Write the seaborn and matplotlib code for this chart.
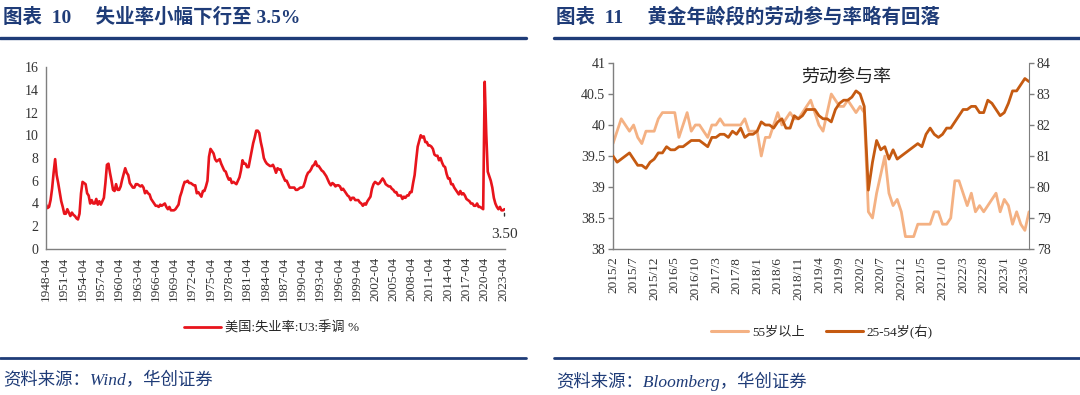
import numpy as np
import pandas as pd
import seaborn as sns
import matplotlib.pyplot as plt
from matplotlib.lines import Line2D

sns.set_style("white")
plt.rcParams['font.family'] = ['Liberation Serif', 'Noto Sans CJK SC']
plt.rcParams['axes.unicode_minus'] = False

# ---- left chart: US U3 unemployment, quarterly readings from 1948-04 to 2023-07
u3 = [3.9, 3.6, 3.7,
      4.3, 5.3, 6.7, 7.9,  6.5, 5.8, 5.0, 4.2,  3.7, 3.1, 3.1, 3.5,  3.2, 2.9, 3.2, 3.0,
      2.9, 2.7, 2.6, 3.1,  4.9, 5.9, 5.8, 5.7,  4.9, 4.7, 4.0, 4.3,  4.0, 4.0, 4.4, 3.9,
      4.2, 3.9, 4.2, 4.5,  5.8, 7.4, 7.5, 6.7,  6.0, 5.2, 5.1, 5.7,  5.2, 5.2, 5.5, 6.1,
      6.6, 7.1, 6.7, 6.5,  5.8, 5.6, 5.4, 5.4,  5.7, 5.7, 5.6, 5.5,  5.6, 5.4, 4.9, 5.1,
      4.9, 4.8, 4.4, 4.2,  4.0, 3.8, 3.8, 3.7,  3.9, 3.8, 3.9, 4.0,  3.7, 3.5, 3.7, 3.4,
      3.4, 3.4, 3.5, 3.7,  3.9, 4.6, 5.0, 5.5,  5.9, 5.9, 6.0, 5.8,  5.8, 5.7, 5.6, 5.6,
      4.9, 5.0, 4.8, 4.6,  5.1, 5.1, 5.5, 6.0,  8.1, 8.8, 8.6, 8.4,  7.9, 7.7, 7.8, 7.9,
      7.5, 7.2, 6.9, 6.8,  6.4, 6.1, 6.2, 5.8,  5.9, 5.8, 5.7, 6.0,  6.3, 6.9, 7.8, 7.5,
      7.5, 7.2, 7.2, 7.9,  8.6, 9.3, 9.8, 10.4,  10.4, 10.2, 9.4, 8.8,  8.0, 7.7, 7.5, 7.4,
      7.3, 7.3, 7.4, 7.1,  6.7, 7.1, 7.0, 7.0,  6.6, 6.3, 6.0, 6.0,  5.7, 5.4, 5.4, 5.4,
      5.4, 5.2, 5.2, 5.3,  5.4, 5.4, 5.5, 5.9,  6.4, 6.7, 6.8, 7.0,  7.3, 7.4, 7.7, 7.3,
      7.3, 7.1, 6.9, 6.8,  6.6, 6.4, 6.1, 5.8,  5.6, 5.8, 5.7, 5.5,  5.6, 5.6, 5.5, 5.2,
      5.3, 5.1, 4.9, 4.7,  4.6, 4.3, 4.5, 4.5,  4.3, 4.3, 4.3, 4.1,  4.0, 3.8, 4.0, 3.9,
      4.2, 4.4, 4.6, 5.3,  5.7, 5.9, 5.8, 5.7,  5.8, 6.0, 6.2, 6.0,  5.7, 5.6, 5.5, 5.5,
      5.3, 5.2, 5.0, 5.0,  4.7, 4.7, 4.7, 4.4,  4.6, 4.5, 4.7, 4.7,  5.0, 5.0, 5.8, 6.5,
      7.8, 9.0, 9.5, 10.0,  9.8, 9.9, 9.4, 9.4,  9.1, 9.1, 9.0, 8.8,  8.3, 8.2, 8.2, 7.8,
      8.0, 7.6, 7.3, 7.2,  6.6, 6.2, 6.2, 5.7,  5.7, 5.4, 5.2, 5.0,  4.8, 5.1, 4.8, 4.9,
      4.7, 4.4, 4.3, 4.2,  4.0, 4.0, 3.8, 3.8,  4.0, 3.7, 3.7, 3.6,  3.5, 14.7, 10.2, 6.8,
      6.4, 6.0, 5.4, 4.5,  4.0, 3.7, 3.5, 3.7,
      3.4, 3.4, 3.5]
u3_ticks = ["1948-04", "1951-04", "1954-04", "1957-04", "1960-04", "1963-04", "1966-04",
            "1969-04", "1972-04", "1975-04", "1978-04", "1981-04", "1984-04", "1987-04",
            "1990-04", "1993-04", "1996-04", "1999-04", "2002-04", "2005-04", "2008-04",
            "2011-04", "2014-04", "2017-04", "2020-04", "2023-04"]

# ---- right chart: labour force participation, monthly 2015/2 - 2023/7
lfpr_55 = [39.7, 39.9, 40.1, 40.0, 39.9, 40.0, 39.8, 39.7, 39.9, 39.9,
           39.9, 40.1, 40.2, 40.2, 40.2, 40.2, 39.8, 40.0, 40.2, 39.9,
           40.0, 40.0, 39.9, 39.8, 40.0, 40.0, 40.1, 40.0, 40.0, 40.0,
           40.0, 40.0, 40.1, 39.9, 39.9, 39.9, 39.5, 39.8, 39.8, 40.0,
           40.2, 40.0, 40.1, 40.2, 40.1, 40.1, 40.2, 40.3, 40.4, 40.2,
           40.0, 39.9, 40.2, 40.5, 40.4, 40.3, 40.3, 40.4, 40.3, 40.2,
           40.3, 40.2, 38.6, 38.5, 38.9, 39.2, 39.5, 38.9, 38.7, 38.8,
           38.6, 38.2, 38.2, 38.2, 38.4, 38.4, 38.4, 38.4, 38.6, 38.6,
           38.4, 38.4, 38.5, 39.1, 39.1, 38.9, 38.7, 38.9, 38.6, 38.7,
           38.6, 38.7, 38.8, 38.9, 38.6, 38.8, 38.7, 38.4, 38.6, 38.4,
           38.3, 38.6]
lfpr_25_54 = [81.0, 80.8, 80.9, 81.0, 81.1, 80.9, 80.7, 80.7, 80.6, 80.8,
              80.9, 81.1, 81.1, 81.3, 81.2, 81.2, 81.3, 81.3, 81.4, 81.5,
              81.5, 81.5, 81.4, 81.3, 81.6, 81.6, 81.7, 81.7, 81.6, 81.8,
              81.7, 81.9, 81.6, 81.7, 81.7, 81.8, 82.1, 82.0, 82.0, 81.9,
              82.1, 82.2, 81.9, 81.9, 82.3, 82.2, 82.3, 82.5, 82.5, 82.5,
              82.3, 82.2, 82.2, 82.1, 82.5, 82.7, 82.8, 82.8, 82.9, 83.1,
              83.0, 82.6, 79.9, 80.8, 81.5, 81.2, 81.3, 80.9, 81.2, 80.9,
              81.0, 81.1, 81.2, 81.3, 81.4, 81.3, 81.7, 81.9, 81.7, 81.6,
              81.7, 81.9, 81.9, 82.1, 82.3, 82.5, 82.5, 82.6, 82.6, 82.4,
              82.4, 82.8, 82.7, 82.5, 82.3, 82.4, 82.7, 83.1, 83.1, 83.3,
              83.5, 83.4]
lfpr_ticks = ["2015/2", "2015/7", "2015/12", "2016/5", "2016/10", "2017/3", "2017/8",
              "2018/1", "2018/6", "2018/11", "2019/4", "2019/9", "2020/2", "2020/7",
              "2020/12", "2021/5", "2021/10", "2022/3", "2022/8", "2023/1", "2023/6"]
left_yticks = [41, 40.5, 40, 39.5, 39, 38.5, 38]

W, H = 1080, 395
NAVY = "#1F3C78"
AXC = "#7F7F7F"


def box(x0, y0, x1, y1):
    return [x0 / W, 1 - y1 / H, (x1 - x0) / W, (y1 - y0) / H]


def style(ax):
    for s in ["top", "right"]:
        ax.spines[s].set_visible(False)
    for s in ["left", "bottom"]:
        ax.spines[s].set_color(AXC)
        ax.spines[s].set_linewidth(1.0)
    ax.tick_params(direction="out", length=3.5, width=1, color=AXC,
                   labelsize=10, labelcolor="#333333", pad=2)


fig = plt.figure(figsize=(W / 100, H / 100), dpi=100)

# left panel
df1 = pd.DataFrame({"i": np.arange(len(u3)), "v": u3})
ax1 = fig.add_axes(box(46, 67, 504.5, 249))
sns.lineplot(data=df1, x="i", y="v", ax=ax1, color="#E8141C", lw=1.9)
ax1.set_xlim(0, len(u3) - 1)
ax1.set_ylim(0, 16)
ax1.set_yticks(range(0, 17, 2))
ax1.set_xticks(np.arange(0, len(u3), 12)[:len(u3_ticks)])
ax1.set_xticklabels(u3_ticks, rotation=90)
ax1.set_xlabel("")
ax1.set_ylabel("")
style(ax1)
ax1.tick_params(axis="x", labelsize=9.5)
ax1.annotate("3.50", xy=(len(u3) - 1, u3[-1]), xytext=(0, -18), textcoords="offset points",
             ha="center", va="center", fontsize=11, color="#333333",
             arrowprops=dict(arrowstyle="-", color="#333333", lw=1, shrinkA=6, shrinkB=3))

# right panel
df2 = pd.DataFrame({"m": np.arange(len(lfpr_55)), "a": lfpr_55, "b": lfpr_25_54})
ax2 = fig.add_axes(box(613, 63, 1029, 249))
sns.lineplot(data=df2, x="m", y="a", ax=ax2, color="#F4B183", lw=2.0)
ax2.set_xlim(0, len(lfpr_55) - 1)
ax2.set_ylim(38, 41)
ax2.set_yticks(left_yticks)
ax2.set_yticklabels([f"{v:g}" for v in left_yticks])
ax2.set_xticks(np.arange(0, len(lfpr_55), 5)[:len(lfpr_ticks)])
ax2.set_xticklabels(lfpr_ticks, rotation=90)
ax2.set_xlabel("")
ax2.set_ylabel("")
style(ax2)
ax2.tick_params(axis="x", labelsize=9.5)

ax3 = ax2.twinx()
sns.lineplot(data=df2, x="m", y="b", ax=ax3, color="#C55A11", lw=2.0)
ax3.set_ylim(78, 84)
ax3.set_yticks(range(78, 85))
ax3.set_ylabel("")
for s in ["top", "left", "bottom"]:
    ax3.spines[s].set_visible(False)
ax3.spines["right"].set_color(AXC)
ax3.tick_params(direction="out", length=3.5, width=1, color=AXC,
                labelsize=10, labelcolor="#333333", pad=2)
ax2.text(0.56, 0.93, "劳动参与率", transform=ax2.transAxes, ha="center", va="center",
         fontsize=13, family=["Noto Sans CJK SC"], color="#222222")

# legends
h1 = [Line2D([], [], color="#E8141C", lw=2)]
fig.legend(h1, ["美国:失业率:U3:季调 %"], loc="center", bbox_to_anchor=(272 / W, 1 - 328 / H),
           frameon=False, fontsize=9.5, handlelength=2.8, handletextpad=0.3)
h2 = [Line2D([], [], color="#F4B183", lw=2.2), Line2D([], [], color="#C55A11", lw=2.2)]
fig.legend(h2, ["55岁以上", "25-54岁(右)"], loc="center", ncol=2,
           bbox_to_anchor=(822 / W, 1 - 332 / H), frameon=False, fontsize=9.5,
           handlelength=2.8, handletextpad=0.3, columnspacing=1.6)

# titles, rules, sources
tfam = ["Liberation Serif", "Noto Sans CJK SC"]
fig.text(3 / W, 1 - 17 / H, "图表  10     失业率小幅下行至 3.5%", fontsize=14, weight="bold",
         color=NAVY, va="center", family=tfam)
fig.text(556 / W, 1 - 17 / H, "图表  11     黄金年龄段的劳动参与率略有回落", fontsize=14,
         weight="bold", color=NAVY, va="center", family=tfam)
for x0, x1 in [(0, 526), (554, 1080)]:
    fig.add_artist(Line2D([x0 / W, x1 / W], [1 - 38 / H] * 2, transform=fig.transFigure,
                          color=NAVY, lw=2.4))
    fig.add_artist(Line2D([x0 / W, x1 / W], [1 - 358 / H] * 2, transform=fig.transFigure,
                          color=NAVY, lw=2.0))
fig.text(3 / W, 1 - 381 / H, "资料来源：Wind，华创证券", fontsize=12.5, style="italic",
         color=NAVY, va="center", family=tfam)
fig.text(556 / W, 1 - 381 / H, "资料来源：Bloomberg，华创证券", fontsize=12.5, style="italic",
         color=NAVY, va="center", family=tfam)

fig.savefig("out.png", dpi=100)
